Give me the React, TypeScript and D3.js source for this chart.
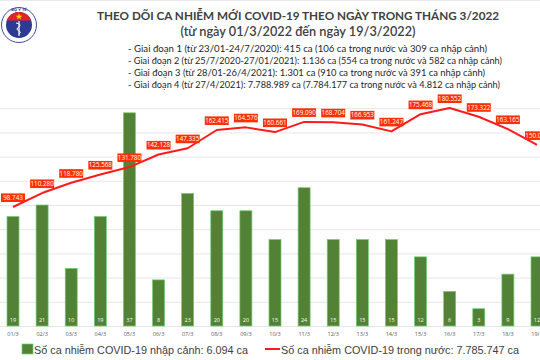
import React from "react";
import * as d3 from "d3";

const days = ["01/3","02/3","03/3","04/3","05/3","06/3","07/3","08/3","09/3","10/3","11/3","12/3","13/3","14/3","15/3","16/3","17/3","18/3","19/3"];
const importedCases = [19,21,10,19,37,8,23,20,20,15,24,15,15,15,12,6,3,9,12];
const domesticCases = [98743,110280,118780,125568,131780,142128,147335,162415,164576,160661,169090,168704,166953,161247,175468,180552,173322,163165,150048];
const gridValues = [20000,40000,60000,80000,100000,120000,140000,160000,180000];
const titleText = "THEO DÕI CA NHIỄM MỚI COVID-19 THEO NGÀY TRONG THÁNG 3/2022";
const subtitleText = "(từ ngày 01/3/2022 đến ngày 19/3/2022)";
const phaseLines = [
  "- Giai đoạn 1 (từ 23/01-24/7/2020): 415 ca (106 ca trong nước và 309 ca nhập cảnh)",
  "- Giai đoạn 2 (từ 25/7/2020-27/01/2021): 1.136 ca (554 ca trong nước và 582 ca nhập cảnh)",
  "- Giai đoạn 3 (từ 28/01-26/4/2021): 1.301 ca (910 ca trong nước và 391 ca nhập cảnh)",
  "- Giai đoạn 4 (từ 27/4/2021): 7.788.989 ca (7.784.177 ca trong nước và 4.812 ca nhập cảnh)",
];
const phaseWidths = [359, 374, 357, 372];
const legendBar = "Số ca nhiễm COVID-19 nhập cảnh: 6.094 ca";
const legendLine = "Số ca nhiễm COVID-19 trong nước: 7.785.747 ca";

const W = 540, H = 360;
const fmt = (v: number) => d3.format(",")(v).replace(/,/g, ".");

export default function App() {
  const x = d3.scalePoint<string>().domain(days).range([13, 537]);
  const yBar = d3.scaleLinear().domain([0, 42]).range([326, 84]);
  const yLine = d3.scaleLinear().domain([0, 200000]).range([326.5, 84.5]);
  const barW = 12;
  const line = d3.line<number>()
    .x((_, i) => x(days[i])!)
    .y((d) => yLine(d))
    .curve(d3.curveLinear);

  const labelFont = "'Open Sans', 'DejaVu Sans', sans-serif";

  return (
    <svg width={W} height={H} viewBox={`0 0 ${W} ${H}`}
      style={{ position: "absolute", left: 0, top: 0, background: "#fff", overflow: "hidden" }}>
      <rect x={0} y={0} width={W} height={H} fill="#ffffff" />
      <line x1={0} x2={W} y1={0.5} y2={0.5} stroke="#e8e8e8" />

      {/* Logo */}
      <g>
        <circle cx={19} cy={25} r={17.5} fill="#ffffff" stroke="#3a4ea0" strokeWidth={1} />
        <circle cx={19} cy={25} r={13} fill="#2d3a93" />
        <path d={`M ${19 - 12.2} ${20.5} A 13 13 0 0 1 ${19 + 12.2} ${20.5} Z`} fill="#e32227" />
        <path d="M19 13.2 L19.9 15.7 L22.4 15.7 L20.4 17.2 L21.1 19.6 L19 18.1 L16.9 19.6 L17.6 17.2 L15.6 15.7 L18.1 15.7 Z" fill="#ffd400" />
        <line x1={19} x2={19} y1={21} y2={36} stroke="#ffffff" strokeWidth={1.2} />
        <path d="M16 23 Q22 24 19 27 Q15 29 19 31 Q22 32 19 34" fill="none" stroke="#ffffff" strokeWidth={1} />
        <text x={19} y={10.5} fontSize={3.5} fill="#2d3a93" textAnchor="middle" fontFamily="'DejaVu Sans', sans-serif" fontWeight="bold">BỘ Y TẾ</text>
      </g>

      {/* Titles */}
      <text x={298} y={20} textAnchor="middle" fontSize={11.5} fontWeight={700} fill="#404040"
        fontFamily="Lato, 'Open Sans', sans-serif" textLength={402} lengthAdjust="spacingAndGlyphs">{titleText}</text>
      <text x={298} y={35.5} textAnchor="middle" fontSize={12.5} fontWeight={600} fill="#404040"
        fontFamily="Lato, 'Open Sans', sans-serif" textLength={235} lengthAdjust="spacingAndGlyphs">{subtitleText}</text>
      {phaseLines.map((t, i) => (
        <text key={i} x={128} y={51.5 + i * 12} fontSize={8.6} fill="#262626"
          fontFamily="Lato, 'Open Sans', sans-serif" textLength={phaseWidths[i]} lengthAdjust="spacingAndGlyphs">{t}</text>
      ))}

      {/* Gridlines */}
      {gridValues.map((g) => (
        <line key={g} x1={0} x2={W} y1={yLine(g)} y2={yLine(g)} stroke="#e6e6e6" strokeWidth={1} />
      ))}
      <line x1={0} x2={W} y1={326.5} y2={326.5} stroke="#e6e6e6" strokeWidth={1} />

      {/* Bars */}
      {importedCases.map((v, i) => (
        <g key={days[i]}>
          <rect x={x(days[i])! - barW / 2} y={yBar(v)} width={barW} height={yBar(0) - yBar(v)}
            fill="#538135" stroke="#6fce6f" strokeWidth={0.7} />
          <text x={x(days[i])!} y={322} textAnchor="middle" fontSize={5.5} fill="#ffffff"
            fontFamily={labelFont}>{v}</text>
          <text x={x(days[i])!} y={336} textAnchor="middle" fontSize={5.5} fill="#595959"
            fontFamily={labelFont}>{days[i]}</text>
        </g>
      ))}

      {/* Line */}
      <path d={line(domesticCases)!} fill="none" stroke="#ff1a1a" strokeWidth={2} strokeLinejoin="round" />

      {/* Line labels */}
      {domesticCases.map((v, i) => {
        const cx = x(days[i])!;
        const cy = yLine(v);
        const bw = 24, bh = 8.6;
        return (
          <g key={"l" + i}>
            <rect x={cx - bw / 2} y={cy - 5 - bh} width={bw} height={bh} fill="#ff3000" />
            <text x={cx} y={cy - 5 - 2.1} textAnchor="middle" fontSize={6.3} fill="#ffffff"
              fontFamily={labelFont}>{fmt(v)}</text>
          </g>
        );
      })}

      {/* Legend */}
      <rect x={22} y={344} width={11} height={10} fill="#538135" stroke="#6fce6f" strokeWidth={0.7} />
      <text x={34} y={353.5} fontSize={11.3} fill="#404040" fontFamily="'Liberation Sans', Arial, sans-serif"
        textLength={214} lengthAdjust="spacingAndGlyphs">{legendBar}</text>
      <line x1={265} x2={280} y1={349} y2={349} stroke="#ff1a1a" strokeWidth={2} />
      <text x={281} y={353.5} fontSize={11.3} fill="#404040" fontFamily="'Liberation Sans', Arial, sans-serif"
        textLength={238} lengthAdjust="spacingAndGlyphs">{legendLine}</text>
    </svg>
  );
}
